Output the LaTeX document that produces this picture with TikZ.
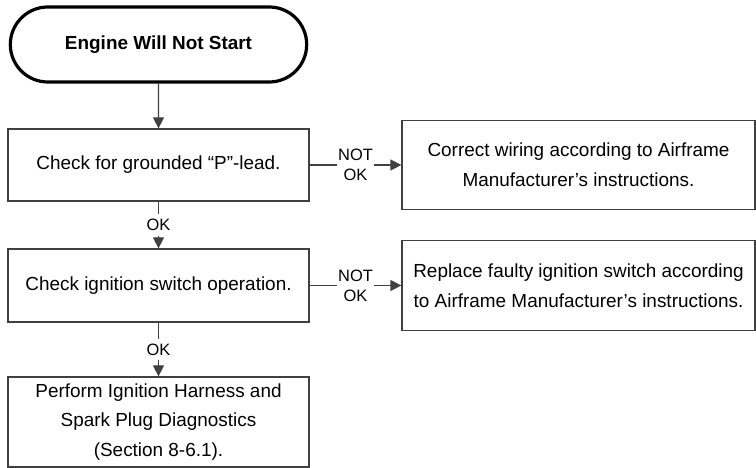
\documentclass[tikz,border=0pt]{standalone}
\usepackage{fontspec}
\setmainfont{Liberation Sans}
\usetikzlibrary{arrows.meta,shapes.misc}
\tikzset{
  box/.style={draw=black!75,line width=1.2bp,minimum width=301bp,inner sep=0pt,align=center,font=\fontsize{19}{30}\selectfont},
  fixbox/.style={box,minimum width=353bp},
  lbl/.style={fill=white,inner xsep=1.5bp,inner ysep=5bp,align=center,font=\fontsize{16.5}{20}\selectfont},
  arr/.style={draw=black!75,line width=1.2bp,-{Triangle[width=11bp,length=11bp]}}
}
\begin{document}
\begin{tikzpicture}[x=1bp,y=-1bp]
\useasboundingbox (0,0) rectangle (756,468);
\node[draw,line width=3.2bp,rounded rectangle,minimum width=303bp,minimum height=75bp,font=\fontsize{19}{23}\selectfont\bfseries] (start) at (158.5,44.5) {Engine Will Not Start};
\node[box,minimum height=72bp] (chk1) at (158.5,165) {Check for grounded “P”-lead.};
\node[box,minimum height=73bp] (chk2) at (158.5,285.5) {Check ignition switch operation.};
\node[box,minimum height=90bp] (diag) at (158.5,422) {Perform Ignition Harness and\\Spark Plug Diagnostics\\(Section 8-6.1).};
\node[fixbox,minimum height=89bp] (fix1) at (578.5,165) {Correct wiring according to Airframe\\Manufacturer’s instructions.};
\node[fixbox,minimum height=90bp] (fix2) at (578.5,285.5) {Replace faulty ignition switch according\\to Airframe Manufacturer’s instructions.};
\draw[arr] (start) -- (chk1);
\draw[arr] (chk1) -- node[lbl] (ok1) {OK} (chk2);
\draw[arr] (chk2) -- node[lbl] (ok2) {OK} (diag);
\foreach \a/\b in {chk1/fix1,chk2/fix2}
  \draw[arr] (\a) -- node[lbl,inner ysep=1bp] (nok-\a) {NOT\\OK} (\b);
\end{tikzpicture}
\end{document}
